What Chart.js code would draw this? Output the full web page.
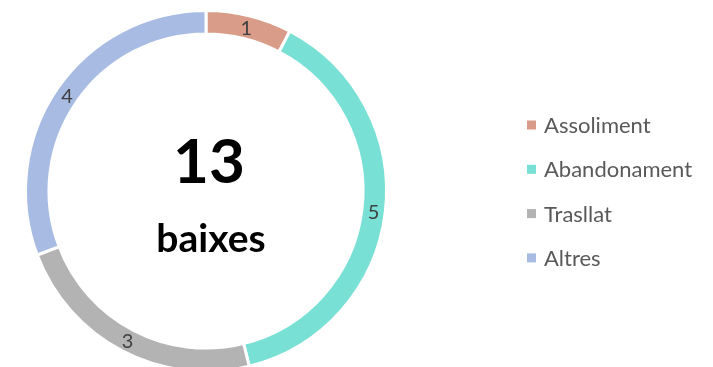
<!DOCTYPE html>
<html>
<head>
<meta charset="utf-8">
<script src="https://cdn.jsdelivr.net/npm/chart.js@4/dist/chart.umd.min.js"></script>
<style>
  html, body { margin: 0; padding: 0; background: #fff; overflow: hidden; }
  #wrap { position: relative; width: 713px; height: 384px; }
</style>
</head>
<body>
<div id="wrap"><canvas id="chart"></canvas></div>
<script>
const labels = ['Assoliment', 'Abandonament', 'Trasllat', 'Altres'];
const values = [1, 5, 3, 4];
const colors = ['#D99C89', '#78E0D4', '#B3B3B3', '#A7BBE3'];
const centerUnit = 'baixes';

const FONT = 'Lato, "Open Sans", sans-serif';

// number printed in the middle of each arc
const arcLabels = {
  id: 'arcLabels',
  afterDatasetsDraw(chart) {
    const {ctx} = chart;
    const meta = chart.getDatasetMeta(0);
    ctx.save();
    ctx.font = '20px ' + FONT;
    ctx.fillStyle = '#404040';
    ctx.textAlign = 'center';
    ctx.textBaseline = 'middle';
    meta.data.forEach((arc, i) => {
      const p = arc.tooltipPosition();
      ctx.fillText(String(values[i]), p.x, p.y + 1);
    });
    ctx.restore();
  }
};

// total in the hole of the doughnut
const centerText = {
  id: 'centerText',
  afterDraw(chart) {
    const {ctx} = chart;
    const arc = chart.getDatasetMeta(0).data[0];
    const total = values.reduce((a, b) => a + b, 0);
    ctx.save();
    ctx.fillStyle = '#000';
    ctx.textAlign = 'center';
    ctx.textBaseline = 'alphabetic';
    ctx.font = 'bold 62px ' + FONT;
    ctx.fillText(String(total), arc.x + 3, 183);
    ctx.font = 'bold 39px ' + FONT;
    ctx.fillText(centerUnit, arc.x + 5, 252);
    ctx.restore();
  }
};

// legend to the right of the ring
const sideLegend = {
  id: 'sideLegend',
  afterDraw(chart) {
    const {ctx} = chart;
    const ds = chart.data.datasets[0];
    const x = 527, y0 = 125, step = 44.3, box = 9;
    ctx.save();
    ctx.font = '22px ' + FONT;
    ctx.textBaseline = 'middle';
    ctx.textAlign = 'left';
    chart.data.labels.forEach((lab, i) => {
      const y = y0 + i * step;
      ctx.fillStyle = ds.backgroundColor[i];
      ctx.fillRect(x, y - box / 2, box, box);
      ctx.fillStyle = '#595959';
      ctx.fillText(lab, x + 17, y + 1);
    });
    ctx.restore();
  }
};

new Chart(document.getElementById('chart'), {
  type: 'doughnut',
  data: {
    labels: labels,
    datasets: [{
      data: values,
      backgroundColor: colors,
      borderColor: '#fff',
      borderWidth: 3
    }]
  },
  options: {
    responsive: true,
    maintainAspectRatio: false,
    animation: false,
    cutout: '87%',
    layout: {padding: {top: 9, bottom: 11, left: 23, right: 324}},
    plugins: {
      legend: {display: false},
      tooltip: {enabled: false}
    }
  },
  plugins: [arcLabels, centerText, sideLegend]
});
</script>
</body>
</html>
